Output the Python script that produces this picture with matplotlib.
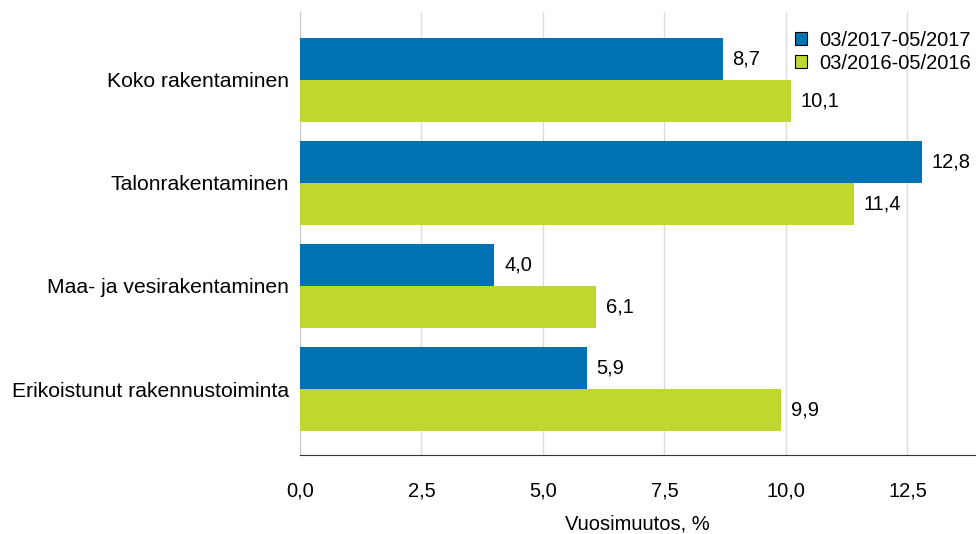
import numpy as np
import matplotlib.pyplot as plt
from matplotlib.patches import Patch

plt.rcParams['font.family'] = ['Liberation Sans', 'DejaVu Sans']

# data
categories = ["Koko rakentaminen", "Talonrakentaminen",
              "Maa- ja vesirakentaminen", "Erikoistunut rakennustoiminta"]
series_names = ["03/2017-05/2017", "03/2016-05/2016"]
values_2017 = [8.7, 12.8, 4.0, 5.9]
values_2016 = [10.1, 11.4, 6.1, 9.9]
xticks = [0, 2.5, 5, 7.5, 10, 12.5]

blue = "#0072b1"
green = "#c0d72f"
fs = 14.5

fig = plt.figure(figsize=(9.79, 5.34), dpi=100)
ax = fig.add_axes([0.3064, 0.148, 0.69, 0.83])

y = np.arange(len(categories))
h = 0.405
ax.barh(y - h/2, values_2017, height=h, color=blue, zorder=3)
ax.barh(y + h/2, values_2016, height=h, color=green, zorder=3)

# value labels with comma decimals
for yy, v in zip(y - h/2, values_2017):
    ax.text(v + 0.2, yy, f"{v:.1f}".replace(".", ","), va="center", ha="left", fontsize=fs)
for yy, v in zip(y + h/2, values_2016):
    ax.text(v + 0.2, yy, f"{v:.1f}".replace(".", ","), va="center", ha="left", fontsize=fs)

ax.set_ylim(3.64, -0.66)
ax.set_xlim(0, 13.9)
ax.set_yticks(y)
ax.set_yticklabels(categories, fontsize=15.2)
ax.set_xticks(xticks)
ax.set_xticklabels([f"{t:.1f}".replace(".", ",") for t in xticks], fontsize=fs)
ax.tick_params(axis="both", length=0)
ax.tick_params(axis="y", pad=8)
ax.tick_params(axis="x", pad=19)
ax.set_xlabel("Vuosimuutos, %", fontsize=fs, labelpad=10)

ax.grid(axis="x", color="#dcdcdc", linewidth=1, zorder=0)
for s in ["top", "right"]:
    ax.spines[s].set_visible(False)
ax.spines["left"].set_color("#c8c8c8")
ax.spines["bottom"].set_color("#333333")

handles = [Patch(facecolor=blue, edgecolor="black", linewidth=0.8),
           Patch(facecolor=green, edgecolor="black", linewidth=0.8)]
leg = ax.legend(handles, series_names, loc="upper right", bbox_to_anchor=(1.008, 0.98),
                frameon=False, fontsize=fs, handlelength=0.6, handleheight=0.6,
                handletextpad=0.6, labelspacing=0.2, borderaxespad=0.1)

fig.savefig("out.png", dpi=100)
